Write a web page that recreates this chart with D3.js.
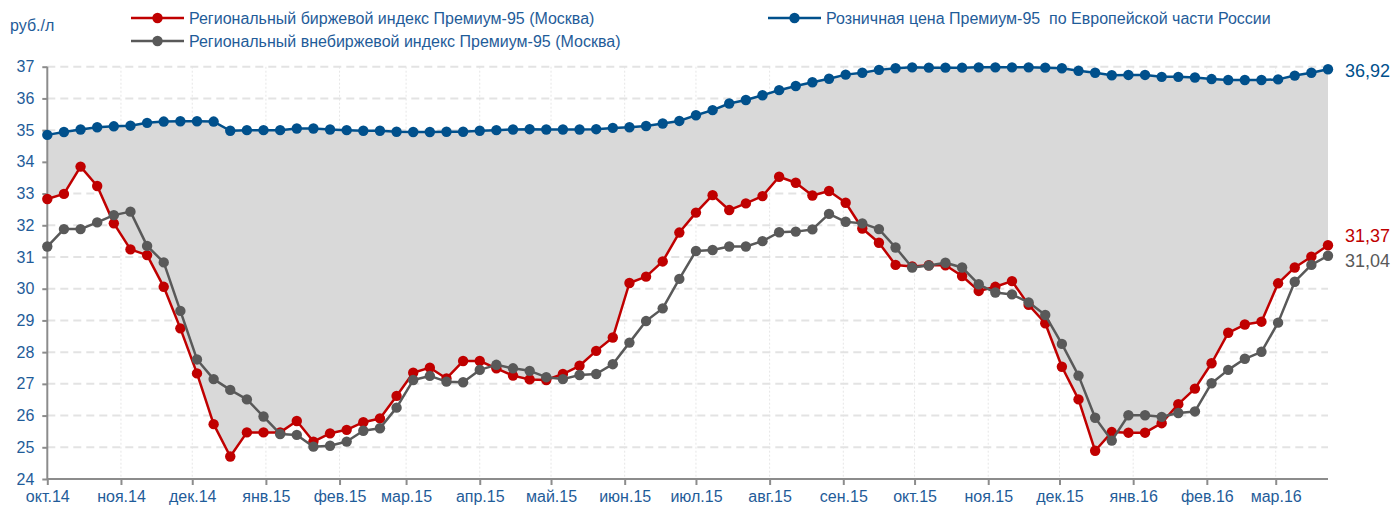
<!DOCTYPE html>
<html lang="ru">
<head>
<meta charset="utf-8">
<script src="https://cdn.jsdelivr.net/npm/d3@7"></script>
<style>
  html, body { margin: 0; padding: 0; background: #ffffff; }
  svg { display: block; font-family: "Liberation Sans", Arial, sans-serif; }
</style>
</head>
<body>
<svg id="chart" width="1393" height="509"></svg>
<script>
// Weekly observation dates
const dates = [
  "2014-10-01","2014-10-08","2014-10-15","2014-10-22","2014-10-29",
  "2014-11-05","2014-11-12","2014-11-19","2014-11-26",
  "2014-12-03","2014-12-10","2014-12-17","2014-12-24","2014-12-31",
  "2015-01-07","2015-01-14","2015-01-21","2015-01-28",
  "2015-02-04","2015-02-11","2015-02-18","2015-02-25",
  "2015-03-04","2015-03-11","2015-03-18","2015-03-25",
  "2015-04-01","2015-04-08","2015-04-15","2015-04-22","2015-04-29",
  "2015-05-06","2015-05-13","2015-05-20","2015-05-27",
  "2015-06-03","2015-06-10","2015-06-17","2015-06-24",
  "2015-07-01","2015-07-08","2015-07-15","2015-07-22","2015-07-29",
  "2015-08-05","2015-08-12","2015-08-19","2015-08-26",
  "2015-09-02","2015-09-09","2015-09-16","2015-09-23","2015-09-30",
  "2015-10-07","2015-10-14","2015-10-21","2015-10-28",
  "2015-11-04","2015-11-11","2015-11-18","2015-11-25",
  "2015-12-02","2015-12-09","2015-12-16","2015-12-23","2015-12-30",
  "2016-01-06","2016-01-13","2016-01-20","2016-01-27",
  "2016-02-03","2016-02-10","2016-02-17","2016-02-24",
  "2016-03-02","2016-03-09","2016-03-16","2016-03-23"
];

// Regional exchange index, Premium-95 (Moscow), rub/l
const exchangeIndex = [
  32.83, 32.99, 33.85, 33.24, 32.06, 31.24, 31.06, 30.06, 28.75, 27.33,
  25.73, 24.71, 25.47, 25.47, 25.47, 25.83, 25.18, 25.44, 25.55, 25.79,
  25.91, 26.62, 27.35, 27.51, 27.17, 27.72, 27.72, 27.49, 27.26, 27.14,
  27.12, 27.31, 27.57, 28.04, 28.46, 30.18, 30.38, 30.86, 31.77, 32.40,
  32.95, 32.48, 32.69, 32.92, 33.53, 33.34, 32.94, 33.08, 32.71, 31.90,
  31.45, 30.75, 30.70, 30.74, 30.74, 30.40, 29.93, 30.06, 30.24, 29.49,
  28.91, 27.54, 26.51, 24.89, 25.48, 25.46, 25.46, 25.76, 26.36, 26.85,
  27.65, 28.61, 28.87, 28.96, 30.17, 30.67, 31.01, 31.37
];

// Regional off-exchange index, Premium-95 (Moscow), rub/l
const offExchangeIndex = [
  31.33, 31.88, 31.88, 32.09, 32.32, 32.43, 31.35, 30.83, 29.30, 27.77,
  27.15, 26.81, 26.51, 25.97, 25.42, 25.39, 25.02, 25.05, 25.18, 25.52,
  25.60, 26.25, 27.12, 27.25, 27.07, 27.05, 27.44, 27.60, 27.49, 27.41,
  27.21, 27.15, 27.28, 27.31, 27.62, 28.30, 28.98, 29.38, 30.31, 31.19,
  31.22, 31.33, 31.33, 31.50, 31.78, 31.80, 31.87, 32.36, 32.11, 32.06,
  31.88, 31.30, 30.67, 30.73, 30.82, 30.67, 30.14, 29.88, 29.82, 29.57,
  29.17, 28.26, 27.26, 25.93, 25.21, 26.01, 26.01, 25.96, 26.08, 26.13,
  27.02, 27.44, 27.79, 28.01, 28.93, 30.22, 30.75, 31.04
];

// Retail price, Premium-95, European part of Russia, rub/l
const retailPrice = [
  34.85, 34.94, 35.02, 35.09, 35.12, 35.14, 35.23, 35.27, 35.28, 35.28,
  35.27, 34.98, 35.00, 35.00, 35.00, 35.05, 35.05, 35.02, 35.00, 34.98,
  34.98, 34.95, 34.94, 34.94, 34.95, 34.95, 34.98, 35.00, 35.02, 35.03,
  35.02, 35.02, 35.02, 35.03, 35.07, 35.09, 35.13, 35.21, 35.29, 35.47,
  35.63, 35.84, 35.95, 36.10, 36.26, 36.39, 36.51, 36.62, 36.75, 36.81,
  36.90, 36.95, 36.98, 36.97, 36.97, 36.97, 36.98, 36.98, 36.98, 36.98,
  36.97, 36.95, 36.87, 36.81, 36.73, 36.74, 36.74, 36.68, 36.68, 36.66,
  36.61, 36.58, 36.58, 36.58, 36.60, 36.72, 36.81, 36.92
];

const yTickValues = [24, 25, 26, 27, 28, 29, 30, 31, 32, 33, 34, 35, 36, 37];
const monthNames = ["янв", "фев", "мар", "апр", "май", "июн",
                    "июл", "авг", "сен", "окт", "ноя", "дек"];

const seriesNames = [
  "Региональный биржевой индекс Премиум-95 (Москва)",
  "Региональный внебиржевой индекс Премиум-95 (Москва)",
  "Розничная цена Премиум-95  по Европейской части России"
];
const unitLabel = "руб./л";

const colors = {
  exchange: "#c00000",
  offExchange: "#595959",
  retail: "#00508c",
  text: "#1f5c99",
  fill: "#d9d9d9",
  axis: "#8c8c8c",
  grid: "#e3e3e3"
};

const parse = d3.utcParse("%Y-%m-%d");
const rows = dates.map((d, i) => ({
  date: parse(d),
  ex: exchangeIndex[i],
  off: offExchangeIndex[i],
  ret: retailPrice[i]
}));

const svg = d3.select("#chart");
const plot = { left: 47.3, right: 1328, top: 66.7, bottom: 479 };

const x = d3.scaleUtc()
  .domain([rows[0].date, rows[rows.length - 1].date])
  .range([plot.left, plot.right]);
const y = d3.scaleLinear().domain([24, 37]).range([plot.bottom, plot.top]);

const monthTicks = d3.utcMonth.range(parse("2014-10-01"), parse("2016-03-02"));

// Vertical dotted gridlines at month starts
svg.append("g")
  .selectAll("line")
  .data(monthTicks.slice(1))
  .join("line")
  .attr("x1", d => x(d)).attr("x2", d => x(d))
  .attr("y1", plot.top).attr("y2", plot.bottom)
  .attr("stroke", "#e6e6e6")
  .attr("stroke-width", 1)
  .attr("stroke-dasharray", "2,2");

// Horizontal dashed gridlines
svg.append("g")
  .selectAll("line")
  .data(yTickValues.slice(1))
  .join("line")
  .attr("x1", plot.left).attr("x2", plot.right)
  .attr("y1", d => y(d)).attr("y2", d => y(d))
  .attr("stroke", colors.grid)
  .attr("stroke-width", 2)
  .attr("stroke-dasharray", "8,5");

// Spread between retail price and exchange index
svg.append("path")
  .datum(rows)
  .attr("fill", colors.fill)
  .attr("d", d3.area()
    .x(d => x(d.date))
    .y0(d => y(d.ex))
    .y1(d => y(d.ret)));

// Axes
const yAxis = d3.axisLeft(y).tickValues(yTickValues).tickSize(5).tickPadding(8);
const gy = svg.append("g").attr("transform", `translate(${plot.left},0)`).call(yAxis);
const xAxis = d3.axisBottom(x)
  .tickValues(monthTicks)
  .tickSize(6)
  .tickPadding(6)
  .tickFormat(d => monthNames[d.getUTCMonth()] + "." + String(d.getUTCFullYear()).slice(2));
const gx = svg.append("g").attr("transform", `translate(0,${plot.bottom})`).call(xAxis);

[gx, gy].forEach(g => {
  g.select(".domain").attr("stroke", colors.axis).attr("stroke-width", 2);
  g.selectAll(".tick line").attr("stroke", colors.axis).attr("stroke-width", 2);
  g.selectAll(".tick text")
    .attr("fill", colors.text)
    .style("font-size", "16px")
    .style("font-family", "'Liberation Sans', Arial, sans-serif");
});
gx.select(".domain").attr("d", `M${plot.left},0H${plot.right}`);
gy.select(".domain").attr("d", `M0,${plot.bottom}V${plot.top}`);

// Series lines with markers
function drawSeries(key, color) {
  svg.append("path")
    .datum(rows)
    .attr("fill", "none")
    .attr("stroke", color)
    .attr("stroke-width", 2.5)
    .attr("stroke-linejoin", "round")
    .attr("d", d3.line().x(d => x(d.date)).y(d => y(d[key])));
  svg.append("g")
    .selectAll("circle")
    .data(rows)
    .join("circle")
    .attr("cx", d => x(d.date))
    .attr("cy", d => y(d[key]))
    .attr("r", 5.2)
    .attr("fill", color);
}
drawSeries("ex", colors.exchange);
drawSeries("off", colors.offExchange);
drawSeries("ret", colors.retail);

// Latest values at the right end
const fmt = v => v.toFixed(2).replace(".", ",");
const last = rows[rows.length - 1];
const endLabels = [
  { v: last.ret, color: colors.retail, dy: 1.5 },
  { v: last.ex, color: colors.exchange, dy: -9.5 },
  { v: last.off, color: colors.offExchange, dy: 5 }
];
svg.append("g")
  .selectAll("text")
  .data(endLabels)
  .join("text")
  .attr("x", 1345)
  .attr("y", d => y(d.v) + d.dy)
  .attr("dominant-baseline", "central")
  .attr("fill", d => d.color)
  .style("font-size", "18px")
  .text(d => fmt(d.v));

// Unit caption
svg.append("text")
  .attr("x", 10).attr("y", 25)
  .attr("dominant-baseline", "central")
  .attr("fill", colors.text)
  .style("font-size", "16px")
  .text(unitLabel);

// Legend
const legendItems = [
  { name: seriesNames[0], color: colors.exchange, x: 131, y: 18 },
  { name: seriesNames[1], color: colors.offExchange, x: 131, y: 41 },
  { name: seriesNames[2], color: colors.retail, x: 768, y: 18 }
];
const lg = svg.append("g")
  .selectAll("g")
  .data(legendItems)
  .join("g")
  .attr("transform", d => `translate(${d.x},${d.y})`);
lg.append("line")
  .attr("x1", 0).attr("x2", 53)
  .attr("stroke", d => d.color)
  .attr("stroke-width", 2.5);
lg.append("circle")
  .attr("cx", 26.5).attr("r", 5.2)
  .attr("fill", d => d.color);
lg.append("text")
  .attr("x", 58)
  .attr("dominant-baseline", "central")
  .attr("fill", colors.text)
  .style("font-size", "16px")
  .style("white-space", "pre")
  .text(d => d.name);
</script>
</body>
</html>
